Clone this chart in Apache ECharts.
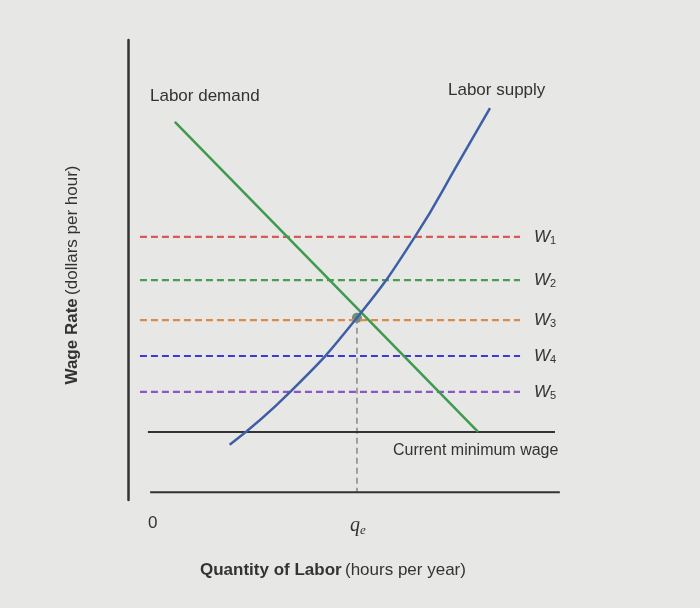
<!DOCTYPE html>
<html>
<head>
<meta charset="utf-8">
<script src="https://cdn.jsdelivr.net/npm/echarts@6/dist/echarts.min.js"></script>
<style>
  html, body { margin: 0; padding: 0; background: #e7e7e5; }
  #main { width: 700px; height: 608px; }
</style>
</head>
<body>
<div id="main"></div>
<script>
// data in chart units (x: 0..100, y: 0..100)
var demandPts = [[10.6, 82.2], [79.2, 14.8]];
var supplyPts = [[23, 12], [36.7, 23.5], [51.8, 39.6], [64.9, 57.2], [75.1, 73.9], [81.9, 85.2]];
var wageNames = ['1', '2', '3', '4', '5'];
var wageLevels = [57.2, 47.8, 39.1, 31.3, 23.5];
var wageColors = ['#d65a55', '#4a9e52', '#dc8a4a', '#3d3ad8', '#8b56c8'];
var minWage = 14.8;
var equilibrium = [51.8, 39.6];

var chart = echarts.init(document.getElementById('main'));

var series = [];
// dashed wage lines
wageLevels.forEach(function (w, i) {
    series.push({
        type: 'line', symbol: 'none', silent: true,
        data: [[2.7, w], [88.7, w]],
        lineStyle: { color: wageColors[i], width: 2.2, type: [7, 4] },
        endLabel: {
            show: true,
            formatter: '{w|W}{s|' + wageNames[i] + '}',
            distance: 14,
            rich: {
                w: { fontFamily: 'Liberation Sans', fontSize: 17, color: '#333', fontStyle: 'italic' },
                s: { fontFamily: 'Liberation Sans', fontSize: 11, color: '#333', verticalAlign: 'bottom', padding: [8, 0, 0, 0] }
            }
        }
    });
});
// vertical dashed at q_e
series.push({
    type: 'line', symbol: 'none', silent: true,
    data: [[equilibrium[0], equilibrium[1]], [equilibrium[0], 1.7]],
    lineStyle: { color: '#888', width: 1.5, type: [6, 4] }
});
// minimum wage
series.push({
    type: 'line', symbol: 'none', silent: true,
    data: [[4.5, minWage], [96.6, minWage]],
    lineStyle: { color: '#333', width: 2 }
});
// x axis line
series.push({
    type: 'line', symbol: 'none', silent: true,
    data: [[5, 1.7], [97.7, 1.7]],
    lineStyle: { color: '#333', width: 2 }
});
// demand
series.push({
    type: 'line', symbol: 'none', silent: true,
    data: demandPts,
    lineStyle: { color: '#3d9a4e', width: 2.5 }
});
// supply
series.push({
    type: 'line', symbol: 'none', smooth: true, silent: true,
    data: supplyPts,
    lineStyle: { color: '#3e5fa8', width: 2.5 }
});
// equilibrium point
series.push({
    type: 'scatter', symbolSize: 10, silent: true,
    data: [equilibrium],
    itemStyle: { color: '#4f7a63' }
});

var txt = function (x, y, text, size, extra) {
    return {
        type: 'text', left: x, top: y,
        style: Object.assign({ text: text, fontSize: size, fill: '#333', fontFamily: 'Liberation Sans' }, extra || {})
    };
};

chart.setOption({
    backgroundColor: '#e7e7e5',
    animation: false,
    grid: { left: 128, right: 130, top: 40, bottom: 108 },
    xAxis: { type: 'value', min: 0, max: 100, show: false },
    yAxis: {
        type: 'value', min: 0, max: 100,
        axisLine: { show: true, lineStyle: { color: '#333', width: 2.5 } },
        axisTick: { show: false }, axisLabel: { show: false }, splitLine: { show: false }
    },
    series: series,
    graphic: [
        txt(150, 88, 'Labor demand', 17),
        txt(448, 82, 'Labor supply', 17),
        txt(393, 443, 'Current minimum wage', 16),
        txt(148, 515, '0', 17),
        {
            type: 'text', left: 350, top: 516,
            style: {
                text: '{q|q}{e|e}',
                rich: {
                    q: { fontSize: 20, fontStyle: 'italic', fill: '#333', fontFamily: 'Liberation Serif' },
                    e: { fontSize: 13, fontStyle: 'italic', fill: '#333', fontFamily: 'Liberation Serif', padding: [10, 0, 0, 0] }
                }
            }
        },
        {
            type: 'text', left: 200, top: 562,
            style: {
                text: '{b|Quantity of Labor} {n|(hours per year)}',
                rich: {
                    b: { fontSize: 17, fontWeight: 'bold', fill: '#333', fontFamily: 'Liberation Sans' },
                    n: { fontSize: 17, fill: '#333', fontFamily: 'Liberation Sans' }
                }
            }
        },
        {
            type: 'text', x: 72, y: 275, rotation: Math.PI / 2,
            style: {
                text: '{b|Wage Rate} {n|(dollars per hour)}',
                align: 'center', verticalAlign: 'middle',
                rich: {
                    b: { fontSize: 17, fontWeight: 'bold', fill: '#333', fontFamily: 'Liberation Sans' },
                    n: { fontSize: 17, fill: '#333', fontFamily: 'Liberation Sans' }
                }
            }
        }
    ]
});
</script>
</body>
</html>
